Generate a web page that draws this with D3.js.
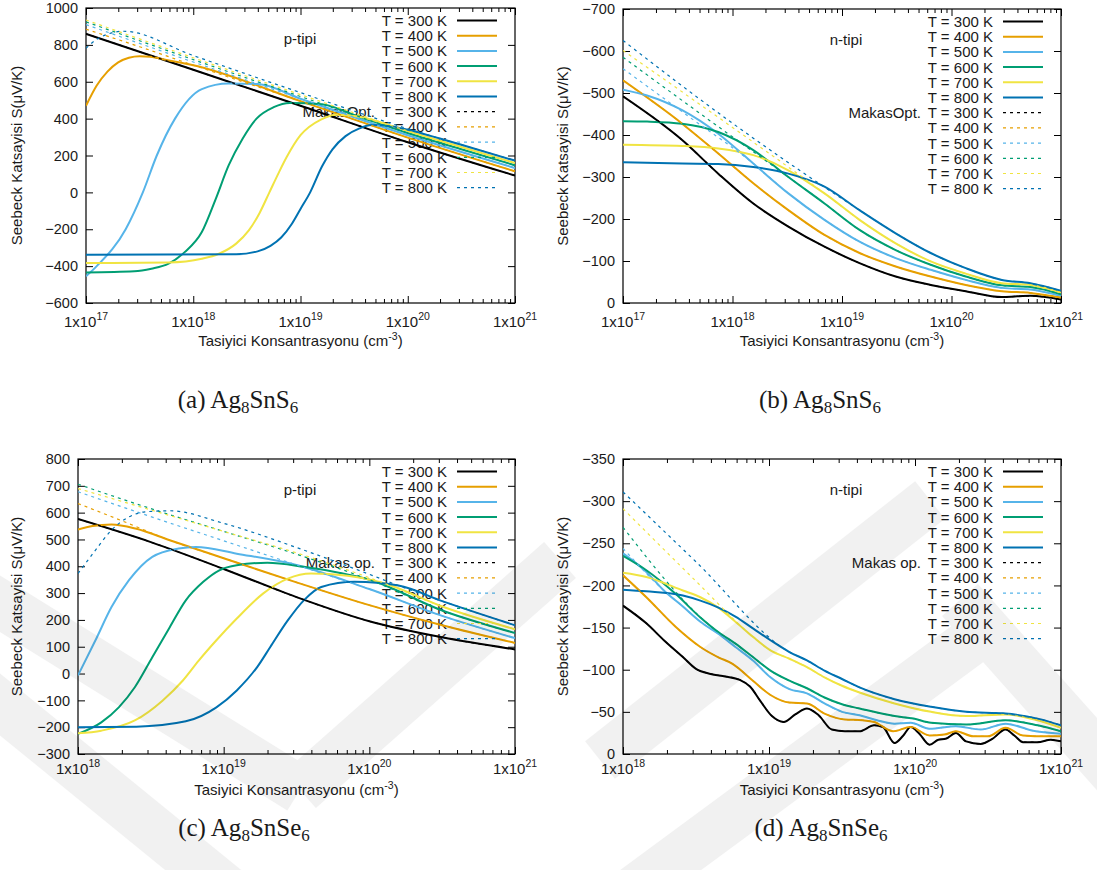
<!DOCTYPE html>
<html lang="tr">
<head>
<meta charset="utf-8">
<style>
body { margin: 0; background: #fff; }
svg text { font-family: "Liberation Sans", Arial, sans-serif; fill: #1a1a1a; }
svg text.cap { font-family: "Liberation Serif", "Times New Roman", serif; }
</style>
</head>
<body>
<svg id="fig" width="1097" height="870"></svg>
<script src="https://d3js.org/d3.v7.min.js"></script>
<script>
// legend entries and colours (gnuplot-like palette)
const tempLabels = ["T = 300 K", "T = 400 K", "T = 500 K", "T = 600 K", "T = 700 K", "T = 800 K"];
const lineColors = ["#000000", "#e69f00", "#56b4e9", "#009e73", "#f0e442", "#0072b2"];

// data: [log10(concentration), Seebeck uV/K], one array per temperature 300..800 K
// (a) Ag8SnS6 p-type
const aTicksY = [-600, -400, -200, 0, 200, 400, 600, 800, 1000];
const aSolid = [
  [[17,860],[18,665],[19,470],[20,272],[21,91]],
  [[17,470],[17.1,580],[17.2,655],[17.3,705],[17.4,730],[17.5,738],[17.6,735],[17.75,718],[18,690],[19,495],[20,297],[21,114]],
  [[17,-455],[17.1,-400],[17.37,-200],[17.53,0],[17.66,200],[17.83,400],[18.08,560],[18.33,590],[18.6,588],[19,508],[20,310],[21,132]],
  [[17,-434],[17.45,-428],[17.61,-414],[17.77,-387],[17.92,-324],[18.08,-215],[18.21,-35],[18.33,146],[18.46,291],[18.59,400],[18.75,462],[18.9,485],[19.2,478],[19.5,420],[20,322],[20.5,234],[21,147]],
  [[17,-383],[17.77,-380],[18.08,-360],[18.24,-333],[18.4,-278],[18.52,-205],[18.62,-110],[18.71,0],[18.8,110],[18.87,190],[19,310],[19.19,395],[19.34,421],[19.55,410],[19.8,370],[20,333],[20.5,246],[21,159]],
  [[17,-338],[18.4,-336],[18.6,-320],[18.72,-290],[18.82,-245],[18.92,-170],[19,-90],[19.09,0],[19.2,140],[19.3,235],[19.42,305],[19.55,347],[19.66,365],[19.85,358],[20,340],[20.3,292],[20.5,258],[21,172]]
];
// MakasOpt. curves: own points until they join the solid curve
const aDash = [
  [],
  [[17,885],[17.5,790],[18,690]],
  [[17,910],[18,707],[18.6,588]],
  [[17,925],[18,720],[19,520],[19.5,420]],
  [[17,935],[18,730],[19,530],[19.5,431],[20,333]],
  [[17,782],[17.1,830],[17.2,858],[17.35,874],[18,742],[19,541],[20,345],[20.3,292]]
];

// (b) Ag8SnS6 n-type
const bTicksY = [-700, -600, -500, -400, -300, -200, -100, 0];
const bSolid = [
  [[17,-492],[17.54,-388],[17.87,-308],[18.19,-237],[18.51,-182],[18.84,-134],[19.16,-95],[19.49,-63],[19.81,-43],[20.13,-28],[20.46,-14],[20.6,-16],[20.72,-17],[21,-8]],
  [[17,-530],[17.54,-427],[17.87,-356],[18.19,-285],[18.51,-221],[18.84,-162],[19.16,-119],[19.49,-87],[19.81,-63],[20.13,-43],[20.46,-28],[20.72,-24],[21,-13]],
  [[17,-508],[17.22,-494],[17.54,-459],[17.87,-403],[18.19,-332],[18.51,-261],[18.84,-198],[19.16,-146],[19.49,-107],[19.81,-79],[20.13,-55],[20.46,-36],[20.72,-32],[21,-17]],
  [[17,-433],[17.22,-432],[17.54,-427],[17.87,-407],[18.19,-364],[18.51,-300],[18.84,-237],[19.16,-174],[19.49,-126],[19.81,-91],[20.13,-63],[20.46,-42],[20.72,-38],[21,-21]],
  [[17,-377],[17.54,-374],[17.87,-368],[18.19,-352],[18.51,-316],[18.84,-261],[19.16,-198],[19.49,-142],[19.81,-99],[20.13,-70],[20.46,-47],[20.72,-43],[21,-25]],
  [[17,-335],[17.54,-332],[17.87,-331],[18.19,-324],[18.51,-308],[18.84,-277],[19.16,-221],[19.49,-166],[19.81,-119],[20.13,-83],[20.46,-55],[20.72,-47],[21,-29]]
];
const bDash = [
  [],
  [],
  [[17,-558],[17.6,-444],[18.19,-332]],
  [[17,-585],[17.8,-433],[18.51,-300]],
  [[17,-601],[18,-418],[18.84,-261]],
  [[17,-625],[18,-428],[19.16,-221]]
];

// (c) Ag8SnSe6 p-type
const cTicksY = [-300, -200, -100, 0, 100, 200, 300, 400, 500, 600, 700, 800];
const cSolid = [
  [[18,576],[18.5,490],[19,390],[19.5,285],[20,195],[20.5,135],[21,90]],
  [[18,537],[18.1,550],[18.23,556],[18.4,540],[18.63,497],[19,430],[19.5,340],[20,255],[20.5,180],[21,114]],
  [[18,-7],[18.12,124],[18.23,248],[18.35,348],[18.51,435],[18.69,466],[18.81,472],[19.09,447],[19.5,405],[20,315],[20.5,215],[21,132]],
  [[18,-225],[18.16,-182],[18.28,-126],[18.39,-51],[18.51,61],[18.63,173],[18.74,273],[18.86,342],[18.97,385],[19.09,404],[19.3,413],[19.55,398],[19.8,375],[20,350],[20.5,235],[21,151]],
  [[18,-223],[18.16,-213],[18.39,-175],[18.58,-101],[18.72,-26],[18.83,49],[18.95,124],[19.09,205],[19.27,298],[19.44,354],[19.6,373],[19.85,365],[20.1,337],[20.5,250],[21,165]],
  [[18,-200],[18.4,-198],[18.74,-178],[18.95,-126],[19.09,-63],[19.23,24],[19.32,99],[19.44,198],[19.55,273],[19.67,323],[19.9,342],[20.2,328],[20.5,270],[21,180]]
];
const cDash = [
  [],
  [[18,634],[18.3,570],[18.63,497]],
  [[18,678],[18.5,585],[19,495],[19.5,405]],
  [[18,706],[18.5,615],[19,530],[19.5,445],[20,350]],
  [[18,690],[18.5,610],[19,530],[19.5,450],[20.1,337]],
  [[18,373],[18.12,460],[18.23,535],[18.35,584],[18.46,603],[18.63,607],[19,560],[19.5,470],[20,370],[20.2,328]]
];

// (d) Ag8SnSe6 n-type
const dTicksY = [-350, -300, -250, -200, -150, -100, -50, 0];
const dSolid = [
  [[18,-176],[18.16,-155],[18.28,-135],[18.41,-115],[18.5,-101],[18.6,-95],[18.7,-92],[18.8,-88],[18.87,-80],[18.94,-63],[19.02,-45],[19.1,-38],[19.18,-47],[19.26,-54],[19.34,-46],[19.43,-29],[19.52,-27],[19.62,-27],[19.72,-34],[19.78,-32],[19.86,-13],[19.92,-22],[19.97,-32],[20.03,-24],[20.1,-11],[20.16,-17],[20.21,-18],[20.28,-25],[20.35,-15],[20.45,-12],[20.53,-18],[20.62,-29],[20.68,-22],[20.74,-14],[20.84,-14],[20.93,-17],[21,-15]],
  [[18,-212],[18.16,-186],[18.36,-151],[18.53,-127],[18.65,-115],[18.75,-107],[18.89,-87],[19.01,-70],[19.14,-61],[19.26,-60],[19.38,-48],[19.52,-41],[19.64,-40],[19.72,-38],[19.85,-27],[19.97,-32],[20.1,-22],[20.2,-23],[20.28,-27],[20.4,-21],[20.5,-21],[20.62,-31],[20.74,-22],[20.9,-21],[21,-21]],
  [[18,-238],[18.16,-216],[18.28,-194],[18.41,-175],[18.53,-157],[18.65,-143],[18.77,-127],[18.89,-111],[19.01,-91],[19.14,-77],[19.26,-72],[19.38,-60],[19.5,-50],[19.62,-46],[19.74,-40],[19.86,-36],[19.97,-37],[20.1,-30],[20.28,-33],[20.45,-29],[20.62,-36],[20.8,-28],[21,-24]],
  [[18,-235],[18.16,-218],[18.36,-190],[18.53,-162],[18.65,-145],[18.77,-131],[18.89,-115],[19.01,-99],[19.14,-87],[19.26,-78],[19.38,-67],[19.5,-59],[19.62,-54],[19.86,-45],[19.99,-42],[20.11,-37],[20.35,-35],[20.62,-40],[20.84,-34],[21,-27]],
  [[18,-215],[18.16,-210],[18.41,-194],[18.53,-186],[18.65,-174],[18.77,-157],[18.89,-139],[19.01,-123],[19.14,-113],[19.26,-103],[19.38,-91],[19.5,-81],[19.62,-73],[19.86,-60],[20.11,-50],[20.35,-45],[20.62,-47],[20.84,-40],[21,-31]],
  [[18,-195],[18.16,-193],[18.41,-188],[18.53,-182],[18.65,-174],[18.77,-163],[18.89,-149],[19.01,-135],[19.14,-121],[19.26,-111],[19.38,-99],[19.5,-89],[19.62,-79],[19.86,-65],[20.11,-56],[20.35,-50],[20.62,-48],[20.84,-42],[21,-34]]
];
const dDash = [
  [],
  [],
  [[18,-244],[18.28,-194]],
  [[18,-269],[18.65,-145]],
  [[18,-291],[18.5,-205],[18.89,-139]],
  [[18,-311],[18.5,-228],[19.14,-121]]
];

const panels = [
  {id: "a", left: 86, right: 515, top: 8, bottom: 303, exps: [17, 21], yDomain: [-600, 1000], yTicks: aTicksY,
   solid: aSolid, dash: aDash, kind: "p-tipi", makas: "MakasOpt.", cap: ["(a) Ag", "8", "SnS", "6"], capX: 238, capY: 408,
   tickDy: 24, titleDy: 43},
  {id: "b", left: 623, right: 1061, top: 9, bottom: 303, exps: [17, 21], yDomain: [0, -700], yTicks: bTicksY,
   solid: bSolid, dash: bDash, kind: "n-tipi", makas: "MakasOpt.", cap: ["(b) Ag", "8", "SnS", "6"], capX: 820, capY: 408,
   tickDy: 24, titleDy: 43},
  {id: "c", left: 78, right: 515, top: 459, bottom: 754, exps: [18, 21], yDomain: [-300, 800], yTicks: cTicksY,
   solid: cSolid, dash: cDash, kind: "p-tipi", makas: "Makas op.", cap: ["(c) Ag", "8", "SnSe", "6"], capX: 244, capY: 836,
   tickDy: 20, titleDy: 41},
  {id: "d", left: 623, right: 1061, top: 459, bottom: 754, exps: [18, 21], yDomain: [0, -350], yTicks: dTicksY,
   solid: dSolid, dash: dDash, kind: "n-tipi", makas: "Makas op.", cap: ["(d) Ag", "8", "SnSe", "6"], capX: 821, capY: 836,
   tickDy: 20, titleDy: 41}
];

const svg = d3.select("#fig");
svg.append("rect").attr("width", 1097).attr("height", 870).attr("fill", "#fff");

function drawPanel(p) {
  const g = svg.append("g").attr("class", "panel-" + p.id);
  const x = d3.scaleLog().domain([Math.pow(10, p.exps[0]), Math.pow(10, p.exps[1])]).range([p.left, p.right]);
  const y = d3.scaleLinear().domain(p.yDomain).range([p.bottom, p.top]);

  const majors = d3.range(p.exps[0], p.exps[1] + 1).map(e => Math.pow(10, e));
  const minors = [];
  d3.range(p.exps[0], p.exps[1]).forEach(e => {
    for (let k = 2; k <= 9; k++) minors.push(k * Math.pow(10, e));
  });

  // axes, ticks pointing inward on all four sides
  const yl = g.append("g").attr("transform", `translate(${p.left},0)`)
    .call(d3.axisLeft(y).tickValues(p.yTicks).tickSizeInner(-7).tickSizeOuter(0).tickPadding(8).tickFormat(d3.format("d")));
  g.append("g").attr("transform", `translate(${p.right},0)`)
    .call(d3.axisRight(y).tickValues(p.yTicks).tickSizeInner(-7).tickSizeOuter(0).tickFormat(""));
  g.append("g").attr("transform", `translate(0,${p.bottom})`)
    .call(d3.axisBottom(x).tickValues(majors).tickSizeInner(-7).tickSizeOuter(0).tickFormat(""));
  g.append("g").attr("transform", `translate(0,${p.bottom})`)
    .call(d3.axisBottom(x).tickValues(minors).tickSizeInner(-4).tickSizeOuter(0).tickFormat(""));
  g.append("g").attr("transform", `translate(0,${p.top})`)
    .call(d3.axisTop(x).tickValues(majors).tickSizeInner(-7).tickSizeOuter(0).tickFormat(""));
  g.append("g").attr("transform", `translate(0,${p.top})`)
    .call(d3.axisTop(x).tickValues(minors).tickSizeInner(-4).tickSizeOuter(0).tickFormat(""));
  g.selectAll(".domain").remove();
  g.selectAll(".tick line").attr("stroke", "#000").attr("stroke-width", 1);
  yl.selectAll("text").attr("font-size", 14.5).attr("fill", "#1a1a1a")
    .style("font-family", '"Liberation Sans", Arial, sans-serif');

  // x tick labels 1x10^n
  majors.forEach((v, i) => {
    const t = g.append("text").attr("x", x(v)).attr("y", p.bottom + p.tickDy)
      .attr("text-anchor", "middle").attr("font-size", 15);
    t.append("tspan").text("1x10");
    t.append("tspan").attr("dy", -7).attr("font-size", 10.5).text(p.exps[0] + i);
  });

  // frame
  g.append("rect").attr("x", p.left).attr("y", p.top)
    .attr("width", p.right - p.left).attr("height", p.bottom - p.top)
    .attr("fill", "none").attr("stroke", "#000").attr("stroke-width", 1.2);

  // axis titles
  const cx = (p.left + p.right) / 2, cy = (p.top + p.bottom) / 2;
  const xt = g.append("text").attr("x", cx).attr("y", p.bottom + p.titleDy)
    .attr("text-anchor", "middle").attr("font-size", 15);
  xt.append("tspan").text("Tasiyici Konsantrasyonu (cm");
  xt.append("tspan").attr("dy", -6).attr("font-size", 10.5).text("-3");
  xt.append("tspan").attr("dy", 6).text(")");
  const ytX = p.id === "a" || p.id === "c" ? 22 : 568;
  g.append("text").attr("transform", `translate(${ytX},${cy}) rotate(-90)`)
    .attr("text-anchor", "middle").attr("font-size", 15)
    .text("Seebeck Katsayisi S(\u03bcV/K)");

  // legend text (drawn under the curves)
  const textEnd = p.right - 68, lx0 = p.right - 58, lx1 = p.right - 18;
  const rowY = i => p.top + 12.5 + i * 15.2;
  const entries = [];
  [false, true].forEach(dashed => tempLabels.forEach((lab, i) => entries.push({lab, i, dashed})));
  entries.forEach((e, k) => {
    g.append("text").attr("x", textEnd).attr("y", rowY(k) + 5.5)
      .attr("text-anchor", "end").attr("font-size", 15).text(e.lab);
  });
  g.append("text").attr("x", textEnd - 72).attr("y", rowY(6) + 5.5)
    .attr("text-anchor", "end").attr("font-size", 15).text(p.makas);
  g.append("text").attr("x", p.id === "a" || p.id === "c" ? 300 : 846).attr("y", p.top + 36)
    .attr("text-anchor", "middle").attr("font-size", 15).text(p.kind);

  // curves
  const clipId = "clip-" + p.id;
  svg.append("clipPath").attr("id", clipId).append("rect")
    .attr("x", p.left).attr("y", p.top).attr("width", p.right - p.left).attr("height", p.bottom - p.top);
  const line = d3.line()
    .x(d => x(Math.pow(10, d[0])))
    .y(d => y(d[1]))
    .curve(d3.curveMonotoneX);
  const cg = g.append("g").attr("clip-path", `url(#${clipId})`);
  p.solid.forEach((s, i) => {
    cg.append("path").attr("d", line(s)).attr("fill", "none")
      .attr("stroke", lineColors[i]).attr("stroke-width", 2);
  });
  p.dash.forEach((head, i) => {
    const last = head.length ? head[head.length - 1][0] : -Infinity;
    const full = head.concat(p.solid[i].filter(d => d[0] > last));
    cg.append("path").attr("d", line(full)).attr("fill", "none")
      .attr("stroke", lineColors[i]).attr("stroke-width", 1.2)
      .attr("stroke-dasharray", "3,4");
  });

  // legend samples
  entries.forEach((e, k) => {
    g.append("line").attr("x1", lx0).attr("x2", lx1).attr("y1", rowY(k)).attr("y2", rowY(k))
      .attr("stroke", lineColors[e.i]).attr("stroke-width", e.dashed ? 1.2 : 2)
      .attr("stroke-dasharray", e.dashed ? "3,4" : null);
  });

  // caption below the panel
  const cap = svg.append("text").attr("class", "cap").attr("x", p.capX).attr("y", p.capY)
    .attr("text-anchor", "middle").attr("font-size", 25);
  cap.append("tspan").text(p.cap[0]);
  cap.append("tspan").attr("dy", 5).attr("font-size", 17).text(p.cap[1]);
  cap.append("tspan").attr("dy", -5).text(p.cap[2]);
  cap.append("tspan").attr("dy", 5).attr("font-size", 17).text(p.cap[3]);
}

panels.forEach(drawPanel);

// faint watermark bands over the lower half
const wm = svg.append("g").attr("opacity", 0.05).attr("pointer-events", "none");
[[[-30, 585], [300, 790]], [[300, 790], [560, 560]], [[-30, 680], [240, 900]],
 [[600, 760], [930, 500]], [[620, 900], [1000, 620]], [[960, 600], [1120, 780]]]
  .forEach(s => wm.append("line").attr("x1", s[0][0]).attr("y1", s[0][1])
    .attr("x2", s[1][0]).attr("y2", s[1][1]).attr("stroke", "#000").attr("stroke-width", 48));
</script>
</body>
</html>
